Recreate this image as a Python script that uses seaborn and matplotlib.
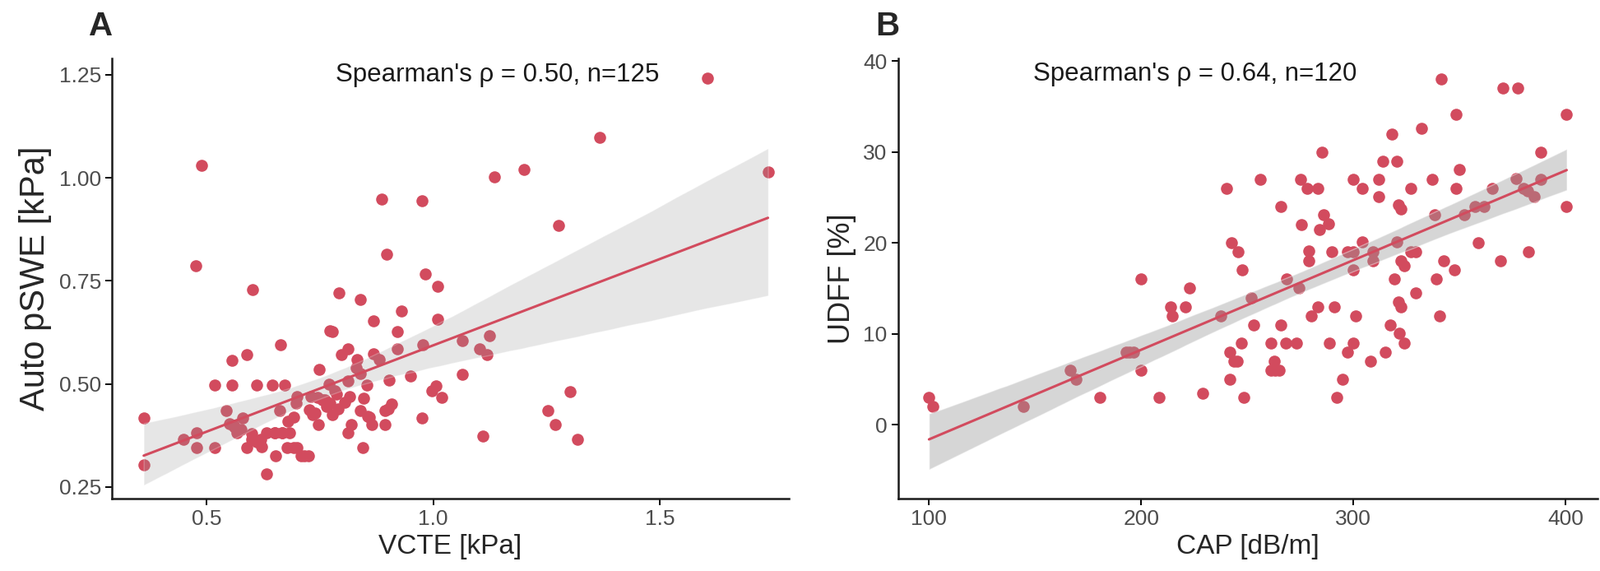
import numpy as np
import pandas as pd
import seaborn as sns
import matplotlib.pyplot as plt

# Panel A: VCTE vs Auto pSWE (kPa)
vcte = [1.606, 1.367, 0.489, 1.200, 1.136, 1.739, 0.887, 0.976, 1.276, 0.898,
        0.476, 0.983, 1.009, 0.602, 0.792, 0.839, 0.930, 0.869, 1.009, 0.772,
        0.778, 0.920, 1.064, 1.124, 0.663, 0.978, 0.920, 0.811, 0.798, 0.869,
        1.102, 1.119, 0.589, 0.556, 0.831, 0.748, 0.839, 1.064, 0.811, 0.517,
        0.556, 0.611, 0.644, 0.672, 0.902, 0.853, 0.783, 0.787, 1.007, 0.998,
        1.018, 0.731, 0.744, 0.761, 0.772, 0.698, 0.847, 0.909, 0.544, 0.661,
        0.727, 0.733, 0.839, 0.894, 1.253, 0.361, 0.580, 0.778, 0.856, 0.976,
        0.692, 1.302, 0.550, 0.561, 0.567, 0.747, 0.820, 0.864, 0.894, 1.270,
        0.478, 0.633, 0.650, 0.667, 0.683, 0.811, 0.448, 0.600, 0.611, 0.622,
        0.478, 0.517, 0.589, 0.678, 0.692, 0.844, 1.109, 1.318, 0.652, 0.708,
        0.724, 0.361, 0.633,
        # points hidden under the dense cluster
        0.650, 0.667, 0.700, 0.716, 0.755, 0.765, 0.790, 0.805, 0.560, 0.575,
        0.620, 0.740, 0.860, 0.880, 0.700, 0.770, 0.830, 0.900, 0.600, 0.950,
        0.680, 0.815]
pswe = [1.241, 1.098, 1.030, 1.021, 1.002, 1.014, 0.949, 0.945, 0.884, 0.814,
        0.787, 0.767, 0.736, 0.728, 0.721, 0.704, 0.676, 0.653, 0.657, 0.629,
        0.627, 0.627, 0.605, 0.617, 0.595, 0.595, 0.585, 0.585, 0.572, 0.574,
        0.585, 0.572, 0.572, 0.558, 0.560, 0.535, 0.526, 0.523, 0.507, 0.497,
        0.497, 0.497, 0.497, 0.497, 0.510, 0.497, 0.483, 0.475, 0.495, 0.483,
        0.468, 0.470, 0.468, 0.461, 0.453, 0.453, 0.466, 0.451, 0.435, 0.435,
        0.438, 0.426, 0.435, 0.435, 0.435, 0.417, 0.417, 0.426, 0.422, 0.417,
        0.419, 0.481, 0.404, 0.395, 0.382, 0.402, 0.402, 0.402, 0.402, 0.402,
        0.382, 0.382, 0.382, 0.382, 0.382, 0.382, 0.365, 0.365, 0.360, 0.347,
        0.345, 0.345, 0.345, 0.345, 0.345, 0.345, 0.373, 0.365, 0.325, 0.325,
        0.325, 0.303, 0.281,
        0.382, 0.382, 0.345, 0.325, 0.462, 0.445, 0.440, 0.455, 0.400, 0.390,
        0.365, 0.430, 0.420, 0.560, 0.470, 0.500, 0.540, 0.440, 0.380, 0.520,
        0.410, 0.470]

# Panel B: CAP (dB/m) vs UDFF (%)
cap = [341.4, 370.4, 377.6, 348.2, 400.5, 332.0, 318.1, 285.1, 388.4, 314.0,
       320.5, 350.1, 256.1, 275.0, 300.0, 312.0, 337.3, 376.6, 388.4, 240.2,
       278.3, 283.1, 304.3, 327.2, 348.2, 365.5, 380.0, 381.9, 385.1, 312.0,
       265.8, 321.2, 322.4, 357.1, 361.4, 400.5, 286.0, 338.1, 352.3, 275.4,
       288.4, 283.9, 242.7, 304.1, 320.5, 359.0, 245.8, 278.8, 289.9, 297.1,
       300.0, 309.2, 327.2, 329.4, 382.4, 278.8, 309.2, 322.4, 324.1, 342.6,
       369.4, 247.5, 300.0, 347.5, 200.0, 268.7, 319.3, 339.0, 222.9, 274.2,
       251.8, 329.4, 213.7, 214.7, 221.0, 283.1, 291.1, 321.2, 322.2, 237.3,
       280.0, 301.2, 340.5, 253.0, 265.8, 317.3, 321.7, 324.1, 247.0, 261.0,
       268.2, 273.0, 288.7, 300.0, 192.8, 194.5, 196.4, 241.7, 297.1, 314.9,
       243.6, 245.1, 262.7, 308.0, 166.7, 200.0, 261.0, 262.9, 265.1, 169.4,
       241.7, 294.7, 228.9, 100.0, 101.7, 144.6, 180.7, 208.4, 248.2, 292.3]
udff = [38.0, 37.0, 37.0, 34.1, 34.1, 32.6, 32.0, 30.0, 30.0, 29.0,
        29.0, 28.1, 27.0, 27.0, 27.0, 27.0, 27.0, 27.1, 27.0, 26.0,
        26.0, 26.0, 26.0, 26.0, 26.0, 26.0, 26.0, 25.7, 25.1, 25.1,
        24.0, 24.2, 23.7, 24.0, 24.0, 24.0, 23.1, 23.1, 23.1, 22.0,
        22.1, 21.5, 20.0, 20.1, 20.1, 20.0, 19.0, 19.1, 19.0, 19.0,
        19.0, 19.0, 19.0, 19.0, 19.0, 18.0, 18.0, 18.0, 17.5, 18.0,
        18.0, 17.0, 17.0, 17.0, 16.0, 16.0, 16.0, 16.0, 15.0, 15.0,
        14.0, 14.5, 13.0, 12.0, 13.0, 13.0, 13.0, 13.5, 13.0, 12.0,
        12.0, 12.0, 12.0, 11.0, 11.0, 11.0, 10.1, 9.0, 9.0, 9.0,
        9.0, 9.0, 9.0, 9.0, 8.0, 8.0, 8.0, 8.0, 8.0, 8.0,
        7.0, 7.0, 7.0, 7.0, 6.0, 6.0, 6.0, 6.0, 6.0, 5.0,
        5.0, 5.0, 3.5, 3.0, 2.0, 2.0, 3.0, 3.0, 3.0, 3.0]

df_a = pd.DataFrame({'vcte': vcte, 'pswe': pswe})
df_b = pd.DataFrame({'cap': cap, 'udff': udff})

red = '#D24B5E'
sns.set_style('white')
plt.rcParams['font.family'] = ['Liberation Sans', 'DejaVu Sans']

fig = plt.figure(figsize=(19.45, 6.94), dpi=100)
ax1 = fig.add_axes([0.070, 0.127, 0.423, 0.771])
ax2 = fig.add_axes([0.5614, 0.127, 0.437, 0.771])


def draw_panel(ax, data, x, y, xlab, ylab, ylab_size, band_alpha, note, note_xy, letter):
    sns.regplot(data=data, x=x, y=y, ax=ax, ci=95, n_boot=2000, seed=3,
                scatter_kws={'s': 110, 'color': red, 'alpha': 1, 'linewidths': 0},
                line_kws={'color': red, 'lw': 2.2})
    # ggplot style grey ribbon instead of tinted one
    for c in ax.collections[1:]:
        c.set_facecolor('#9a9a9a')
        c.set_alpha(band_alpha)
    ax.set_xlabel(xlab, fontsize=24, labelpad=4)
    ax.set_ylabel(ylab, fontsize=ylab_size, labelpad=6)
    ax.tick_params(axis='both', labelsize=19, labelcolor='#4D4D4D', color='black',
                   length=6, width=1.4, direction='out', bottom=True, left=True)
    for s in ['top', 'right']:
        ax.spines[s].set_visible(False)
    for s in ['left', 'bottom']:
        ax.spines[s].set_color('#1a1a1a')
        ax.spines[s].set_linewidth(1.8)
    ax.text(note_xy[0], note_xy[1], note, fontsize=22.5, ha='center', va='center',
            color='#1a1a1a')
    ax.text(-0.016, 1.072, letter, transform=ax.transAxes, fontsize=29,
            fontweight='bold', ha='center', va='center')


draw_panel(ax1, df_a, 'vcte', 'pswe', 'VCTE [kPa]', 'Auto pSWE [kPa]', 30, 0.24,
           "Spearman's ρ = 0.50, n=125", (1.142, 1.25), 'A')
ax1.set_xlim(0.291, 1.785)
ax1.set_ylim(0.222, 1.29)
ax1.set_xticks([0.5, 1.0, 1.5])
ax1.set_xticklabels(['0.5', '1.0', '1.5'])
ax1.set_yticks([0.25, 0.50, 0.75, 1.00, 1.25])
ax1.set_yticklabels(['0.25', '0.50', '0.75', '1.00', '1.25'])

draw_panel(ax2, df_b, 'cap', 'udff', 'CAP [dB/m]', 'UDFF [%]', 26, 0.4,
           "Spearman's ρ = 0.64, n=120", (225.3, 38.6), 'B')
ax2.set_xlim(85.5, 415)
ax2.set_ylim(-8.1, 40.3)
ax2.set_xticks([100, 200, 300, 400])
ax2.set_yticks([0, 10, 20, 30, 40])

fig.savefig('out.png', dpi=100)
